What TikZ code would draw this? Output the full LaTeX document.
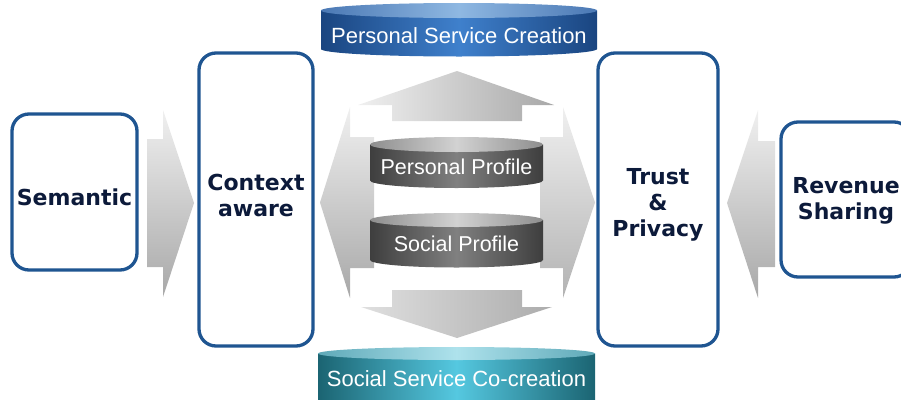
\documentclass[tikz,border=0pt]{standalone}
\usepackage{fontspec}
\setmainfont{Liberation Sans}
\newfontfamily\boxfont{DejaVu Sans}
\usepackage{xcolor}

\definecolor{boxblue}{HTML}{1F5591}
\definecolor{boxtext}{HTML}{0C1A3A}
\definecolor{blueedge}{HTML}{1A4580}
\definecolor{bluemid}{HTML}{3F80CC}
\definecolor{bluetopedge}{HTML}{4A78B4}
\definecolor{bluetopmid}{HTML}{8FB8E2}
\definecolor{tealedge}{HTML}{1B6472}
\definecolor{tealmid}{HTML}{55C8E0}
\definecolor{tealtopedge}{HTML}{5FA9B8}
\definecolor{tealtopmid}{HTML}{AEE2EC}
\definecolor{darkedge}{HTML}{3E3E3E}
\definecolor{darkmid}{HTML}{808080}
\definecolor{greytopedge}{HTML}{8E8E8E}
\definecolor{greytopmid}{HTML}{D2D2D2}
\definecolor{arrowlight}{HTML}{F0F0F0}
\definecolor{arrowdark}{HTML}{A8A8A8}

\tikzset{
  box/.style={draw=boxblue, line width=3.3pt, rounded corners=17pt, fill=white},
  boxlabel/.style={text=boxtext, font=\boxfont\bfseries\fontsize{22}{26}\selectfont, align=center, inner sep=0pt},
  cyllabel/.style={text=white, font=\fontsize{22}{26}\selectfont, inner sep=0pt},
  flatarrow/.style={top color=arrowlight, bottom color=arrowdark},
  crossarrow/.style={left color=arrowlight, right color=arrowdark},
}

\begin{document}
\begin{tikzpicture}[x=1pt, y=-1pt]

\useasboundingbox (0,0) rectangle (901,399);

\node[box, minimum width=125pt, minimum height=156pt] (semantic) at (74.5,192) {};
\node[boxlabel] (semantic-label) at ([yshift=-5pt]semantic.center) {Semantic};

\node[box, minimum width=114pt, minimum height=293pt] (context) at (256,199.5) {};
\node[boxlabel] (context-label) at ([yshift=4pt]context.center) {Context\\aware};

\node[box, minimum width=120pt, minimum height=293pt] (trust) at (658,199.5) {};
\node[boxlabel] (trust-label) at ([yshift=-5.5pt]trust.center) {Trust\\\&\\Privacy};

\node[box, minimum width=130pt, minimum height=155pt] (revenue) at (846,199.5) {};
\node[boxlabel] (revenue-label) at ([yshift=-1pt]revenue.center) {Revenue\\Sharing};

\shade[flatarrow] (147,139) -- (163,139) -- (163,110) -- (194,203) -- (163,297) -- (163,267) -- (147,267) -- cycle;

\shade[flatarrow] (775,141) -- (758,141) -- (758,110) -- (727,203) -- (758,298) -- (758,267) -- (775,267) -- cycle;

\shade[crossarrow] (392,121) -- (392,105) -- (358,105) -- (457,71) -- (554,105) -- (522,105) -- (522,121) -- cycle;

\shade[crossarrow, left color=gray!25, right color=gray!65] (392,290) -- (392,307) -- (361,307) -- (457,338) -- (552,307) -- (522,307) -- (522,290) -- cycle;

\shade[flatarrow] (374,137) -- (350,137) -- (350,107) -- (320,202.5) -- (350,298) -- (350,268) -- (374,268) -- cycle;

\shade[flatarrow, top color=gray!12, bottom color=gray!60] (540,137) -- (563,137) -- (563,107) -- (595,202.5) -- (563,298) -- (563,268) -- (540,268) -- cycle;

\shade[left color=blueedge, right color=blueedge, middle color=bluemid] (321,10.5) -- (321,49) arc[start angle=180, end angle=360, x radius=138pt, y radius=7.5pt] -- (597,10.5) -- cycle;
\shade[left color=bluetopedge, right color=bluetopedge, middle color=bluetopmid] (459,10.5) ellipse [x radius=138pt, y radius=7.5pt];
\node[cyllabel] (creation) at (459,35.5) {Personal Service Creation};

\shade[left color=darkedge, right color=darkedge, middle color=darkmid] (370,144.5) -- (370,180.5) arc[start angle=180, end angle=360, x radius=86.5pt, y radius=7.5pt] -- (543,144.5) -- cycle;
\shade[left color=greytopedge, right color=greytopedge, middle color=greytopmid] (456.5,144.5) ellipse [x radius=86.5pt, y radius=7.5pt];
\node[cyllabel, font=\fontsize{21.5}{26}\selectfont] (personal) at (456.5,166.5) {Personal Profile};

\shade[left color=darkedge, right color=darkedge, middle color=darkmid] (370,220) -- (370,260) arc[start angle=180, end angle=360, x radius=86.5pt, y radius=7.5pt] -- (543,220) -- cycle;
\shade[left color=greytopedge, right color=greytopedge, middle color=greytopmid] (456.5,220) ellipse [x radius=86.5pt, y radius=7pt];
\node[cyllabel, font=\fontsize{21.5}{26}\selectfont] (social) at (456.5,244) {Social Profile};

\shade[left color=tealedge, right color=tealedge, middle color=tealmid] (318,353.5) -- (318,400) arc[start angle=180, end angle=360, x radius=138.5pt, y radius=7pt] -- (595,353.5) -- cycle;
\shade[left color=tealtopedge, right color=tealtopedge, middle color=tealtopmid] (456.5,353.5) ellipse [x radius=138.5pt, y radius=6.5pt];
\node[cyllabel] (cocreation) at (456.5,378.5) {Social Service Co-creation};

\end{tikzpicture}
\end{document}
